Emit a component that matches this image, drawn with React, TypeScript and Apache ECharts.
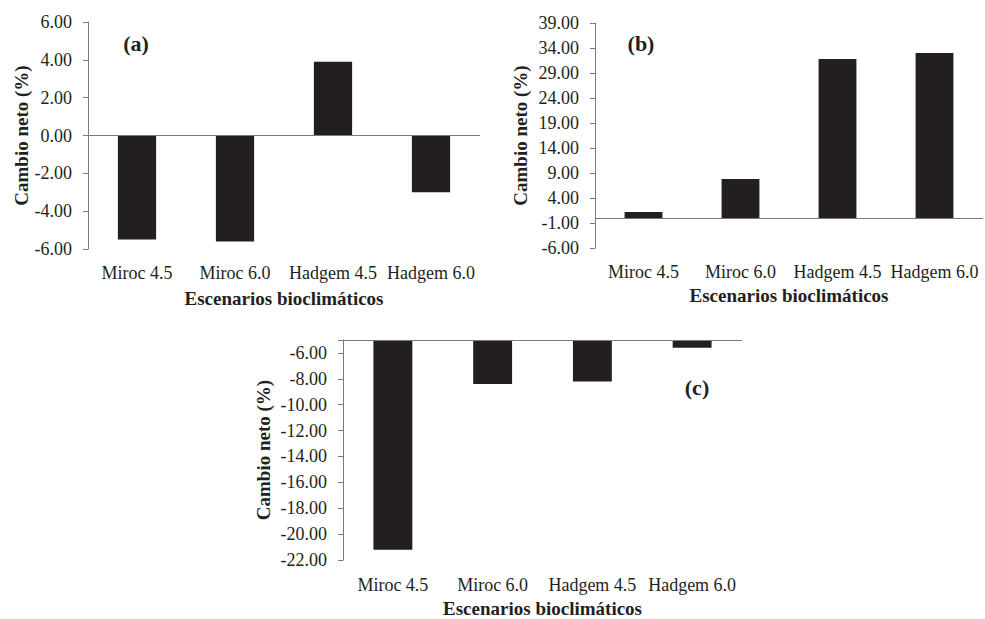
import React, { useEffect, useRef } from "react";
import * as echarts from "echarts";

const categories = ["Miroc 4.5", "Miroc 6.0", "Hadgem 4.5", "Hadgem 6.0"];
const valuesA = [-5.5, -5.6, 3.9, -3.0];
const valuesB = [1.2, 7.8, 31.8, 33.0];
const valuesC = [-21.2, -8.4, -8.2, -5.6];
const panelLabels = ["(a)", "(b)", "(c)"];
const xTitle = "Escenarios bioclimáticos";
const yTitle = "Cambio neto (%)";

const FONT = "'Liberation Serif', 'Times New Roman', serif";
const TEXT = "#231f20";
const AXIS = "#7a7a7a";
const BAR = "#231f20";

export default function App() {
  const ref = useRef<HTMLDivElement>(null);
  useEffect(() => {
    if (!ref.current) return;
    const chart = echarts.init(ref.current, undefined, { renderer: "svg" });
    const grids = [
      { left: 88, top: 22, width: 392, height: 227 },
      { left: 595, top: 23, width: 388, height: 225 },
      { left: 343, top: 340, width: 399, height: 224 },
    ];
    const yCfg = [
      { min: -6, max: 6, interval: 2, nameGap: 56, zero: 0 },
      { min: -6, max: 39, interval: 5, nameGap: 65, zero: 0 },
      { min: -22, max: -5, interval: 2, nameGap: 70, zero: -5 },
    ];
    const labelMargins = [15, 15, 16];
    const nameGaps = [40, 38, 39];
    const dataSets = [valuesA, valuesB, valuesC];

    const option: any = {
      animation: false,
      grid: grids,
      xAxis: grids.map((_, i) => ({
        type: "category",
        gridIndex: i,
        data: categories,
        position: "bottom",
        axisLine: { show: false, onZero: false },
        axisTick: { show: false },
        axisLabel: {
          interval: 0,
          fontSize: 18,
          fontFamily: FONT,
          color: TEXT,
          margin: labelMargins[i],
        },
        name: xTitle,
        nameLocation: "middle",
        nameGap: nameGaps[i],
        nameTextStyle: {
          fontSize: 19,
          fontWeight: "bold",
          fontFamily: FONT,
          color: TEXT,
        },
      })),
      yAxis: yCfg.map((c, i) => ({
        type: "value",
        gridIndex: i,
        min: c.min,
        max: c.max,
        interval: c.interval,
        axisLine: { show: true, lineStyle: { color: AXIS, width: 1 } },
        axisTick: { show: true, length: 5, lineStyle: { color: AXIS, width: 1 } },
        splitLine: { show: false },
        axisLabel: {
          fontSize: 18,
          fontFamily: FONT,
          color: TEXT,
          margin: 16,
          formatter: (v: number) =>
            i === 2 && Math.abs(v - c.max) < 1e-9 ? "" : v.toFixed(2),
        },
        name: yTitle,
        nameLocation: "middle",
        nameRotate: 90,
        nameGap: c.nameGap,
        nameTextStyle: {
          fontSize: 19,
          fontWeight: "bold",
          fontFamily: FONT,
          color: TEXT,
        },
      })),
      series: dataSets.map((d, i) => ({
        type: "bar",
        xAxisIndex: i,
        yAxisIndex: i,
        data: d,
        barWidth: "39%",
        clip: true,
        itemStyle: { color: BAR },
        markLine: {
          silent: true,
          symbol: ["none", "none"],
          label: { show: false },
          lineStyle: { color: AXIS, type: "solid", width: 1 },
          data: [{ yAxis: yCfg[i].zero }],
        },
      })),
      graphic: [
        { x: 136, y: 43 },
        { x: 641, y: 43 },
        { x: 697, y: 387 },
      ].map((p, i) => ({
        type: "text",
        x: p.x,
        y: p.y,
        style: {
          text: panelLabels[i],
          font: `bold 22px ${FONT}`,
          fill: TEXT,
          align: "center",
          verticalAlign: "middle",
        },
      })),
    };
    chart.setOption(option);
    return () => chart.dispose();
  }, []);
  return (
    <div
      ref={ref}
      style={{ position: "fixed", left: 0, top: 0, width: 985, height: 619, background: "#fff" }}
    />
  );
}
